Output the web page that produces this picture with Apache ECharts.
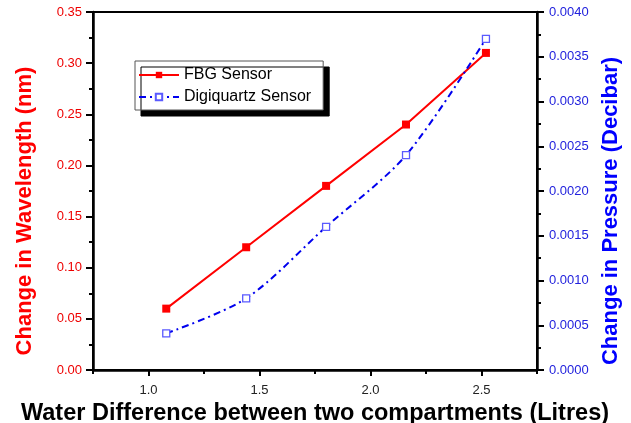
<!DOCTYPE html>
<html>
<head>
<meta charset="utf-8">
<script src="https://cdn.jsdelivr.net/npm/echarts@6/dist/echarts.min.js"></script>
<style>
html,body{margin:0;padding:0;background:#fff;}
#c{width:631px;height:423px;}
</style>
</head>
<body>
<div id="c"></div>
<script>
var xValues = [1.08, 1.44, 1.80, 2.16, 2.52];
var fbgValues = [0.06, 0.12, 0.18, 0.24, 0.31];
var digiValues = [0.00041, 0.0008, 0.0016, 0.0024, 0.0037];
var xMajorTicks = [1.0, 1.5, 2.0, 2.5];
var xMinorTicks = [0.75, 1.25, 1.75, 2.25, 2.75];
var seriesNames = ['FBG Sensor', 'Digiquartz Sensor'];

var FONT = '"Liberation Sans", Arial, sans-serif';
function pairs(xs, ys) { return xs.map(function (x, i) { return [x, ys[i]]; }); }

var chart = echarts.init(document.getElementById('c'), null, { renderer: 'canvas' });
chart.setOption({
  backgroundColor: '#fff',
  animation: false,
  textStyle: { fontFamily: FONT },
  grid: { left: 93, right: 94, top: 12, bottom: 53, show: true, borderColor: '#000', borderWidth: 2, containLabel: false, outerBoundsMode: 'none' },
  legend: {
    orient: 'vertical', left: 135, top: 61,
    backgroundColor: '#fff', borderColor: '#555', borderWidth: 1,
    shadowColor: '#000', shadowBlur: 0, shadowOffsetX: 6, shadowOffsetY: 6,
    padding: [6, 12, 5, 3], itemWidth: 40, itemHeight: 8, itemGap: 6,
    textStyle: { fontSize: 16, color: '#000', fontFamily: FONT },
    data: seriesNames
  },
  xAxis: [{
    type: 'value', min: 0.75, max: 2.75, interval: 0.25,
    name: 'Water Difference between two compartments (Litres)',
    nameLocation: 'middle', nameGap: 23,
    nameTextStyle: { fontSize: 23.5, fontWeight: 'bold', color: '#000', fontFamily: FONT },
    axisLine: { onZero: false, lineStyle: { color: '#000', width: 2.5 } },
    axisTick: { customValues: xMajorTicks, length: 6, lineStyle: { color: '#000', width: 2 } },
    axisLabel: { customValues: xMajorTicks, formatter: function (v) { return v.toFixed(1); }, fontSize: 13, color: '#222', margin: 14 },
    splitLine: { show: false }
  }, {
    type: 'value', min: 0.75, max: 2.75, interval: 0.25, position: 'bottom',
    axisLine: { show: false },
    axisTick: { customValues: xMinorTicks, length: 4, lineStyle: { color: '#000', width: 2 } },
    axisLabel: { show: false },
    splitLine: { show: false }
  }],
  yAxis: [{
    type: 'value', min: 0, max: 0.35, interval: 0.05, position: 'left',
    name: 'Change in Wavelength (nm)', nameLocation: 'middle', nameGap: 57,
    nameTextStyle: { fontSize: 22, fontWeight: 'bold', color: '#ff0000', fontFamily: FONT, padding: [0, 40, 0, 0] },
    axisLine: { show: true, onZero: false, lineStyle: { color: '#000', width: 2.5 } },
    axisTick: { length: 7, lineStyle: { color: '#000', width: 2 } },
    minorTick: { show: true, splitNumber: 2, length: 4, lineStyle: { color: '#000', width: 2 } },
    axisLabel: { formatter: function (v) { return v.toFixed(2); }, fontSize: 13, color: '#ee0000', margin: 11 },
    splitLine: { show: false }
  }, {
    type: 'value', min: 0, max: 0.004, interval: 0.0005, position: 'right',
    name: 'Change in Pressure (Decibar)', nameLocation: 'middle', nameGap: 62,
    nameTextStyle: { fontSize: 22, fontWeight: 'bold', color: '#0000ff', fontFamily: FONT, padding: [0, 40, 0, 0] },
    axisLine: { show: true, onZero: false, lineStyle: { color: '#000', width: 2.5 } },
    axisTick: { length: 7, lineStyle: { color: '#000', width: 2 } },
    minorTick: { show: true, splitNumber: 2, length: 4, lineStyle: { color: '#000', width: 2 } },
    axisLabel: { formatter: function (v) { return v.toFixed(4); }, fontSize: 13, color: '#2222dd', margin: 12 },
    splitLine: { show: false }
  }],
  series: [{
    name: seriesNames[0], type: 'line', xAxisIndex: 0, yAxisIndex: 0,
    data: pairs(xValues, fbgValues),
    symbol: 'rect', symbolSize: 8,
    itemStyle: { color: '#ff0000' },
    lineStyle: { color: '#ff0000', width: 2 }
  }, {
    name: seriesNames[1], type: 'line', xAxisIndex: 0, yAxisIndex: 1,
    data: pairs(xValues, digiValues),
    smooth: 0.3,
    symbol: 'rect', symbolSize: 7,
    itemStyle: { color: '#fff', borderColor: '#5a5aff', borderWidth: 1.3 },
    lineStyle: { color: '#0000ee', width: 2, type: [7, 4, 2, 4] }
  }]
});
</script>
</body>
</html>
